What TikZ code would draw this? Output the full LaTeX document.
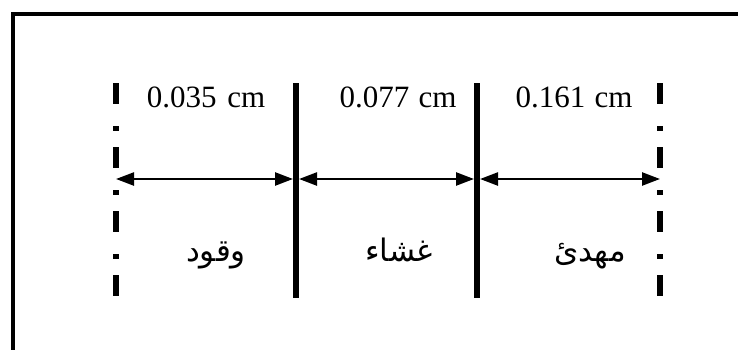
\documentclass[tikz,border=0pt]{standalone}
\usepackage{fontspec}
\setmainfont{Liberation Serif}
\newfontfamily\arabicfont[Script=Arabic]{DejaVu Sans}
\TeXXeTstate=1
\usetikzlibrary{arrows.meta}
\tikzset{
  frameline/.style={line width=4.5pt, line join=miter},
  solidwall/.style={line width=5.5pt},
  dashwall/.style={line width=5.8pt, dash pattern=on 21pt off 22pt on 5pt off 16pt},
  dimarrow/.style={line width=2.4pt, {Triangle[length=18pt,width=13pt]}-{Triangle[length=18pt,width=13pt]}},
  numlabel/.style={anchor=base, inner sep=0pt, font=\fontsize{31}{36}\selectfont},
  arlabel/.style={anchor=base, inner sep=0pt, font=\fontsize{31}{36}\selectfont\arabicfont}
}
\begin{document}
\begin{tikzpicture}[x=1pt,y=1pt]
\useasboundingbox (0,0) rectangle (738,349);
\clip (0,0) rectangle (738,349);
% frame
\draw[frameline] (760,335) -- (13,335) -- (13,-20);
% walls
\coordinate (w1t) at (116,266); \coordinate (w1b) at (116,51);
\coordinate (w2t) at (296,266); \coordinate (w2b) at (296,51);
\coordinate (w3t) at (477,266); \coordinate (w3b) at (477,51);
\coordinate (w4t) at (660,266); \coordinate (w4b) at (660,51);
\draw[dashwall] (w1t) -- (w1b);
\draw[solidwall] (w2t) -- (w2b);
\draw[solidwall] (w3t) -- (w3b);
\draw[dashwall] (w4t) -- (w4b);
% dimension arrows
\coordinate (a1) at (116,170);
\coordinate (a2) at (293,170);
\coordinate (a3) at (299,170);
\coordinate (a4) at (474,170);
\coordinate (a5) at (480,170);
\coordinate (a6) at (660,170);
\draw[dimarrow] (a1) -- (a2);
\draw[dimarrow] (a3) -- (a4);
\draw[dimarrow] (a5) -- (a6);
% labels
\node[numlabel] (t1) at (206,242) {0.035\hspace{0.35em}cm};
\node[numlabel] (t2) at (398,242) {0.077\hspace{0.3em}cm};
\node[numlabel] (t3) at (574,242) {0.161\hspace{0.3em}cm};
\node[arlabel] (l1) at (216,88) {\beginR وقود\endR};
\node[arlabel] (l2) at (399,88) {\beginR غشاء\endR};
\node[arlabel] (l3) at (590,88) {\beginR مهدئ\endR};
\end{tikzpicture}
\end{document}
